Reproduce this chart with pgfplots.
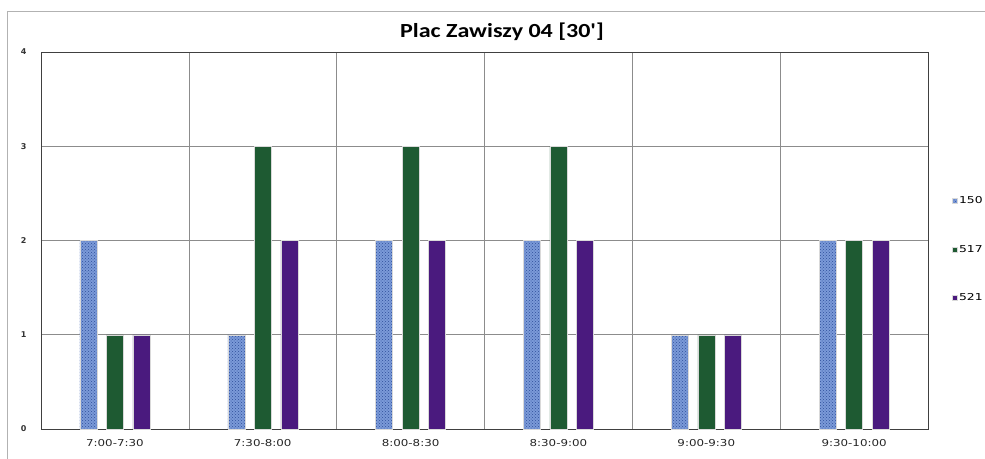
\documentclass[border=0pt]{standalone}
\usepackage{fontspec}
\setmainfont{DejaVu Sans}
\newfontfamily\titlefont[FakeStretch=1.2]{Carlito}
\newfontfamily\widefont[FakeStretch=1.25]{DejaVu Sans}
\newfontfamily\legfont[FakeStretch=1.3]{DejaVu Sans}
\usepackage{pgfplots}
\pgfplotsset{compat=1.18}
\usetikzlibrary{patterns}

\definecolor{cblue}{HTML}{7B9AD8}
\definecolor{cbluep}{HTML}{2F4F9A}
\definecolor{cgreen}{HTML}{1E5A32}
\definecolor{cpurple}{HTML}{4A1A7E}
\definecolor{gridc}{HTML}{8C8C8C}

\begin{document}
\begin{tikzpicture}[x=1pt,y=1pt]
\useasboundingbox (0,0) rectangle (985,458);
\clip (0,0) rectangle (985,458);
\fill[white] (0,0) rectangle (985,458);
\draw[gray!60, line width=1pt] (7,-5) -- (7,446) -- (990,446);
\node[font=\titlefont\bfseries\fontsize{20}{24}\selectfont] at (502,426) {Plac Zawiszy 04 [30']};
\begin{axis}[
  at={(41pt,29pt)}, anchor=south west,
  scale only axis, width=887pt, height=377pt,
  xmin=-0.5, xmax=5.5, ymin=0, ymax=4,
  ytick={0,...,4},
  xtick={0,...,5},
  xticklabels={7:00-7:30,7:30-8:00,8:00-8:30,8:30-9:00,9:00-9:30,9:30-10:00},
  minor xtick={-0.5,0.5,...,5.5},
  xminorgrids, ymajorgrids,
  major tick length=0, minor tick length=0,
  grid style={gridc, line width=0.6pt},
  minor grid style={gridc, line width=0.6pt},
  axis line style={black!75},
  ybar=9.5pt, bar width=17pt,
  /pgf/number format/assume math mode=true,
  yticklabel style={font=\bfseries\fontsize{8}{9}\selectfont, text=black!80, anchor=east, xshift=-11pt},
  xticklabel style={font=\widefont\fontsize{9.5}{11}\selectfont, text=black!85, yshift=-7pt},
  legend style={at={(1.027,0.622)}, anchor=north west, draw=none, fill=none,
    font=\legfont\fontsize{9.5}{11}\selectfont, row sep=36pt, inner sep=0pt,
    nodes={inner xsep=1.5pt}},
  legend image code/.code={\fill[#1] (0pt,-2.5pt) rectangle (5pt,2.5pt);},
]
\addplot[fill=cblue, draw=gray!30, postaction={pattern=crosshatch dots, pattern color=cbluep}]
  coordinates {(0,2)(1,1)(2,2)(3,2)(4,1)(5,2)};
\addplot[fill=cgreen, draw=gray!30]
  coordinates {(0,1)(1,3)(2,3)(3,3)(4,1)(5,2)};
\addplot[fill=cpurple, draw=gray!30]
  coordinates {(0,1)(1,2)(2,2)(3,2)(4,1)(5,2)};
\legend{150,517,521}
\end{axis}
\end{tikzpicture}
\end{document}
